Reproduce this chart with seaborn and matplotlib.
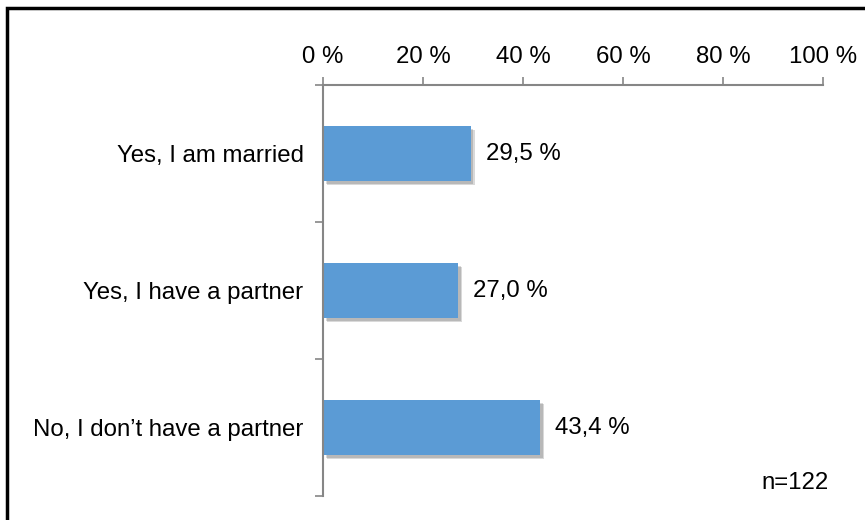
import matplotlib
matplotlib.use("Agg")
import matplotlib.pyplot as plt
import matplotlib.patheffects as pe
from matplotlib.patches import Rectangle
import seaborn as sns
import pandas as pd

# survey answers (n=122)
categories = ["Yes, I am married", "Yes, I have a partner", "No, I don\u2019t have a partner"]
shares = [29.5, 27.0, 43.4]
xticks = [0, 20, 40, 60, 80, 100]

sns.set_style("white")
plt.rcParams['font.family'] = ['Liberation Sans', 'DejaVu Sans']
plt.rcParams['text.color'] = 'black'
plt.rcParams['xtick.labelcolor'] = 'black'
plt.rcParams['ytick.labelcolor'] = 'black'
fs = 17.3

df = pd.DataFrame({"answer": categories, "share": shares})

fig = plt.figure(figsize=(8.65, 5.2), dpi=100)
ax = fig.add_axes([323 / 865, 1 - 496 / 520, 500 / 865, 411 / 520])

sns.barplot(data=df, x="share", y="answer", color="#5B9BD5", width=0.4,
            saturation=1, linewidth=0, edgecolor="none", ax=ax)
for bar in ax.patches:
    bar.set_path_effects([pe.SimplePatchShadow(offset=(3, -3), shadow_rgbFace="black", alpha=0.15),
                          pe.SimplePatchShadow(offset=(2, -2), shadow_rgbFace="black", alpha=0.15),
                          pe.Normal()])

labels = [f"{v:.1f} %".replace(".", ",") for v in shares]
ax.bar_label(ax.containers[0], labels=labels, padding=11, fontsize=fs, color="black")

ax.set_xlim(0, 100)
ax.set_ylim(2.5, -0.5)
ax.xaxis.tick_top()
ax.set_xticks(xticks)
ax.set_xticklabels([f"{t} %" for t in xticks], fontsize=fs)
ax.tick_params(axis="x", length=6, width=1.2, color="#868686", pad=6, top=True, bottom=False)
ax.set_yticks(range(len(categories)))
ax.set_yticklabels(categories, fontsize=fs)
ax.tick_params(axis="y", which="major", length=0, pad=14)
ax.set_yticks([-0.5, 0.5, 1.5, 2.5], minor=True)
ax.tick_params(axis="y", which="minor", length=6, width=1.2, color="#868686", left=True)
ax.set_xlabel("")
ax.set_ylabel("")

for side in ["right", "bottom"]:
    ax.spines[side].set_visible(False)
for side in ["left", "top"]:
    ax.spines[side].set_color("#868686")
    ax.spines[side].set_linewidth(1.5)

fig.text(829 / 865, 1 - 483 / 520, "n=122", ha="right", va="center", fontsize=fs)

# frame around the chart
fig.patches.append(Rectangle((7 / 865, -0.05), 1.1, 1 - 8 / 520 + 0.05, transform=fig.transFigure,
                             fill=False, edgecolor="black", linewidth=2.5, clip_on=False))

fig.savefig("out.png", dpi=100)
